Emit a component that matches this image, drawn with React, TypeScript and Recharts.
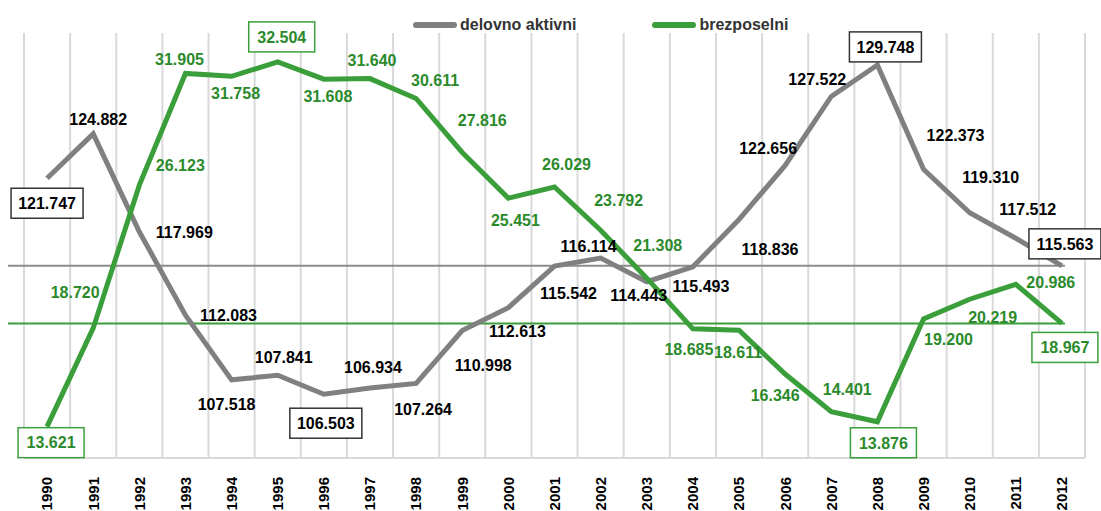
import { LineChart, Line, XAxis, YAxis, CartesianGrid, ReferenceLine, LabelList } from "recharts";

const years = ["1990", "1991", "1992", "1993", "1994", "1995", "1996", "1997", "1998", "1999", "2000", "2001", "2002", "2003", "2004", "2005", "2006", "2007", "2008", "2009", "2010", "2011", "2012"];
const delovnoAktivni = [121.747, 124.882, 117.969, 112.083, 107.518, 107.841, 106.503, 106.934, 107.264, 110.998, 112.613, 115.542, 116.114, 114.443, 115.493, 118.836, 122.656, 127.522, 129.748, 122.373, 119.31, 117.512, 115.563];
const brezposelni = [13.621, 18.72, 26.123, 31.905, 31.758, 32.504, 31.608, 31.64, 30.611, 27.816, 25.451, 26.029, 23.792, 21.308, 18.685, 18.611, 16.346, 14.401, 13.876, 19.2, 20.219, 20.986, 18.967];

// which labels get a frame
const grayBoxed = [0, 6, 18, 22];
const greenBoxed = [0, 5, 18, 22];

// label placement relative to the point (dx, dy of the label centre)
const grayLabelPos = [
  [0, 25], [5, -15], [45, 0], [43, 0], [-5, 24], [6, -18], [2, 29], [3, -21], [7, 26], [21, 35], [9, 24], [14, 27],
  [-12, -12], [-8, 14], [8, 19], [31, 30], [-17, -17], [-14, -17], [8, -18], [32, -34], [21, -36], [12, -29], [3, -22],
];
const greenLabelPos = [
  [4, 16], [-18, -36], [41, -20], [-6, -14], [4, 17], [4, -25], [4, 17], [2, -18], [19, -18], [20, -32], [7, 22], [12, -23],
  [18, -30], [11, -33], [-4, 20], [-1, 22], [-10, 21], [16, -22], [6, 21], [25, 20], [23, 18], [35, -2], [3, 24],
];

const GRAY = "#808080";
const GREEN = "#3a9e3a";
const GREEN_TEXT = "#2b8a2b";
const FONT = "'Liberation Sans', Arial, sans-serif";

const data = years.map((year, i) => ({
  year,
  delovno: delovnoAktivni[i],
  brezposelni: brezposelni[i],
}));

function makeLabel(values: number[], pos: number[][], boxed: number[], color: string, boxColor: string, boxW: number) {
  return (props: any) => {
    const vb = props.viewBox || {};
    const x = props.x ?? vb.x;
    const y = props.y ?? vb.y;
    let index = props.index;
    if (index === undefined) index = values.indexOf(props.value);
    if (x === undefined || y === undefined || index < 0) return null;
    const [dx, dy] = pos[index];
    const cx = x + dx;
    const cy = y + dy;
    const text = Number(props.value).toFixed(3);
    return (
      <g key={`lbl-${color}-${index}`}>
        {boxed.includes(index) && (
          <rect x={cx - boxW / 2} y={cy - 15} width={boxW} height={30} fill="#fff" stroke={boxColor} strokeWidth={1.5} />
        )}
        <text x={cx} y={cy} dy="0.36em" textAnchor="middle" fontFamily={FONT} fontWeight="bold" fontSize={16} fill={color}>
          {text}
        </text>
      </g>
    );
  };
}

const YearTick = (props: any) => {
  const { x, y, payload } = props;
  return (
    <text x={x} y={y + 11} transform={`rotate(-90 ${x} ${y + 11})`} textAnchor="end" dy="0.36em" fontFamily={FONT} fontWeight="bold" fontSize={15} fill="#000">
      {payload.value}
    </text>
  );
};

// horizontal line from the left edge to the last point
const levelLine = (color: string) => (props: any) => {
  const { x1, x2, y1 } = props;
  const band = (x2 - x1) / years.length;
  return <line x1={x1 - 16} x2={x2 - band / 2 + 3} y1={y1} y2={y1} stroke={color} strokeWidth={2} />;
};

const ChartLegend = () => (
  <div style={{ position: "absolute", top: 16, left: 413, display: "flex", alignItems: "center", fontFamily: FONT, fontWeight: "bold", fontSize: 16, color: "#333", lineHeight: "18px" }}>
    <span style={{ display: "inline-block", width: 44, height: 6, borderRadius: 3, background: GRAY, marginRight: 3 }} />
    <span>delovno aktivni</span>
    <span style={{ display: "inline-block", width: 44, height: 6, borderRadius: 3, background: GREEN, marginLeft: 76, marginRight: 3 }} />
    <span>brezposelni</span>
  </div>
);

export default function App() {
  return (
    <div style={{ position: "absolute", left: 0, top: 0, width: 1101, height: 511, background: "#fff" }}>
      <LineChart width={1101} height={511} data={data} margin={{ top: 33, right: 16, left: 24, bottom: 0 }}>
        <CartesianGrid
          horizontal={false}
          stroke="#d9d9d9"
          strokeWidth={2}
          verticalCoordinatesGenerator={({ offset }: any) =>
            Array.from({ length: years.length + 1 }, (_, i) => offset.left + (offset.width * i) / years.length)
          }
        />
        <XAxis
          dataKey="year"
          scale="band"
          interval={0}
          tickLine={false}
          axisLine={{ stroke: "#d9d9d9", strokeWidth: 2 }}
          tick={<YearTick />}
          height={53}
        />
        <YAxis yAxisId="gray" hide domain={[102, 132]} />
        <YAxis yAxisId="green" hide domain={[12, 34]} />
        <ReferenceLine yAxisId="gray" y={delovnoAktivni[delovnoAktivni.length - 1]} shape={levelLine("#8c8c8c")} />
        <ReferenceLine yAxisId="green" y={brezposelni[brezposelni.length - 1]} shape={levelLine(GREEN)} />
        <Line
          yAxisId="gray"
          type="linear"
          dataKey="delovno"
          name="delovno aktivni"
          stroke={GRAY}
          strokeWidth={5}
          dot={false}
          isAnimationActive={false}
        >
          <LabelList dataKey="delovno" content={makeLabel(delovnoAktivni, grayLabelPos, grayBoxed, "#000", "#333", 72)} />
        </Line>
        <Line
          yAxisId="green"
          type="linear"
          dataKey="brezposelni"
          name="brezposelni"
          stroke={GREEN}
          strokeWidth={5}
          dot={false}
          isAnimationActive={false}
        >
          <LabelList dataKey="brezposelni" content={makeLabel(brezposelni, greenLabelPos, greenBoxed, GREEN_TEXT, GREEN, 66)} />
        </Line>
      </LineChart>
      <ChartLegend />
    </div>
  );
}
